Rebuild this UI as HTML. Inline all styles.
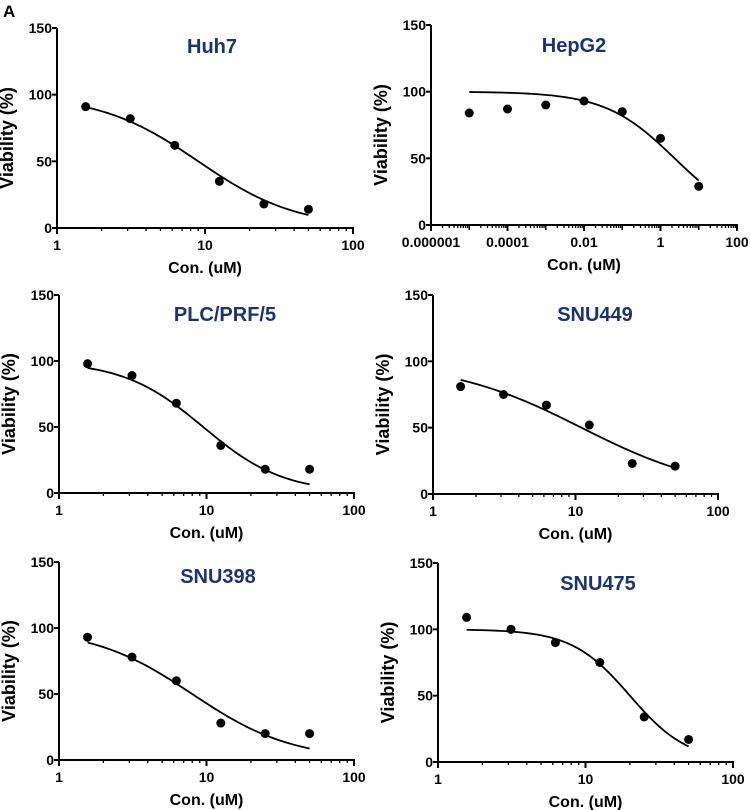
<!DOCTYPE html>
<html><head><meta charset="utf-8"><style>
body{margin:0;background:#fff}
svg{display:block}
text{font-family:"Liberation Sans",Arial,sans-serif;font-weight:bold}
</style></head><body>
<svg id="fig" width="750" height="810" viewBox="0 0 750 810">
<text x="3" y="17" font-size="17" fill="#000">A</text>
</svg>
<script>
const concentrations = [1.5625, 3.125, 6.25, 12.5, 25, 50];
const hepg2Concentrations = [1e-5, 1e-4, 1e-3, 1e-2, 1e-1, 1, 10];
const huh7Values = [91, 82, 62, 35, 18, 14];
const hepg2Values = [84, 87, 90, 93, 85, 65, 29];
const plcValues = [98, 89, 68, 36, 18, 18];
const snu449Values = [81, 75, 67, 52, 23, 21];
const snu398Values = [93, 78, 60, 28, 20, 20];
const snu475Values = [109, 100, 90, 75, 34, 17];
const yTicks = [0, 50, 100, 150];
const xTicksStd = [1, 10, 100];
const xTickLabelsStd = ["1", "10", "100"];
const xTicksHep = [1e-6, 1e-4, 1e-2, 1, 100];
const xTickLabelsHep = ["0.000001", "0.0001", "0.01", "1", "100"];
// fit params: [ic50, hill]
const huh7Fit = [9, 1.3];
const hepg2Fit = [2.34, 0.477];
const plcFit = [9.5, 1.6];
const snu449Fit = [11, 0.93];
const snu398Fit = [8, 1.28];
const snu475Fit = [20, 2.2];

const NS = "http://www.w3.org/2000/svg";
const svg = document.getElementById('fig');
function mk(tag, attrs, parent){const e=document.createElementNS(NS,tag);for(const k in attrs)e.setAttribute(k,attrs[k]);(parent||svg).appendChild(e);return e;}

const panels = [
 {id:'huh7', title:'Huh7', xs:concentrations, ys:huh7Values, fit:huh7Fit, ax:57, ax2:353, y150:28, y0:228, xmin:1, xmax:100, tx:212, ty:53, ticks:xTicksStd, labels:xTickLabelsStd},
 {id:'hepg2', title:'HepG2', xs:hepg2Concentrations, ys:hepg2Values, fit:hepg2Fit, ax:431, ax2:737, y150:25, y0:225, xmin:1e-6, xmax:100, tx:574, ty:52, ticks:xTicksHep, labels:xTickLabelsHep},
 {id:'plc-prf-5', title:'PLC/PRF/5', xs:concentrations, ys:plcValues, fit:plcFit, ax:59, ax2:354, y150:295, y0:493, xmin:1, xmax:100, tx:225, ty:321, ticks:xTicksStd, labels:xTickLabelsStd},
 {id:'snu449', title:'SNU449', xs:concentrations, ys:snu449Values, fit:snu449Fit, ax:433, ax2:718, y150:295, y0:494, xmin:1, xmax:100, tx:595, ty:321, ticks:xTicksStd, labels:xTickLabelsStd},
 {id:'snu398', title:'SNU398', xs:concentrations, ys:snu398Values, fit:snu398Fit, ax:59, ax2:354, y150:562, y0:760, xmin:1, xmax:100, tx:218, ty:583, ticks:xTicksStd, labels:xTickLabelsStd},
 {id:'snu475', title:'SNU475', xs:concentrations, ys:snu475Values, fit:snu475Fit, ax:438, ax2:733, y150:563, y0:762, xmin:1, xmax:100, tx:598, ty:590, ticks:xTicksStd, labels:xTickLabelsStd}
];

panels.forEach(p=>{
  const g = mk('g',{});
  
  
  const lmin=Math.log10(p.xmin), lmax=Math.log10(p.xmax);
  const X = v => p.ax + (Math.log10(v)-lmin)/(lmax-lmin)*(p.ax2-p.ax);
  const Y = v => p.y0 - v/150*(p.y0-p.y150);
  const ya = mk('line',{x1:p.ax,y1:p.y150,x2:p.ax,y2:p.y0,stroke:'#000','stroke-width':2},g);
  
  
  const xa = mk('line',{x1:p.ax-1,y1:p.y0,x2:p.ax2+1,y2:p.y0,stroke:'#000','stroke-width':2},g);
  
  
  yTicks.forEach(t=>{
    mk('line',{x1:p.ax-5,y1:Y(t),x2:p.ax,y2:Y(t),stroke:'#000','stroke-width':2},g);
    const tl = mk('text',{x:p.ax-5,y:Y(t)+5,'font-size':14,'text-anchor':'end'},g);
    tl.textContent=t;
    
    
  });
  for(let d=Math.round(lmin); d<Math.round(lmax); d++){
    for(let m=2;m<=9;m++){
      const xx=X(m*Math.pow(10,d));
      mk('line',{x1:xx,y1:p.y0,x2:xx,y2:p.y0+3,stroke:'#000','stroke-width':1.3},g);
    }
    if(d>Math.round(lmin)){const xx=X(Math.pow(10,d));mk('line',{x1:xx,y1:p.y0,x2:xx,y2:p.y0+5,stroke:'#000','stroke-width':1.5},g);}
  }
  p.ticks.forEach((t,i)=>{
    const xx=X(t);
    mk('line',{x1:xx,y1:p.y0,x2:xx,y2:p.y0+6,stroke:'#000','stroke-width':2},g);
    const tl=mk('text',{x:xx,y:p.y0+22,'font-size':14,'text-anchor':'middle'},g);
    tl.textContent=p.labels[i];
    
    
  });
  const xt=mk('text',{x:(p.ax+p.ax2)/2,y:p.y0+45,'font-size':16,'text-anchor':'middle'},g);
  xt.textContent='Con. (uM)';
  
  
  const yc=(p.y0+p.y150)/2+10, yx=p.ax-44;
  const yt=mk('text',{x:yx,y:yc,'font-size':18,'text-anchor':'middle',transform:`rotate(-90 ${yx} ${yc})`},g);
  yt.textContent='Viability (%)';
  
  
  const tt=mk('text',{x:p.tx,y:p.ty,'font-size':20,'text-anchor':'middle',fill:'#1b3372'},g);
  tt.textContent=p.title;
  
  
  const [ic,h]=p.fit;
  const a=Math.log10(p.xs[0]), b=Math.log10(p.xs[p.xs.length-1]);
  let d='';
  for(let i=0;i<=80;i++){
    const lx=a+(b-a)*i/80, v=Math.pow(10,lx);
    const y=100/(1+Math.pow(v/ic,h));
    d+=(i?'L':'M')+X(v).toFixed(2)+' '+Y(y).toFixed(2);
  }
  const c=mk('path',{d:d,fill:'none',stroke:'#000','stroke-width':1.8},g);
  
  
  p.xs.forEach((v,i)=>{
    const pt=mk('circle',{cx:X(v),cy:Y(p.ys[i]),r:4.5,fill:'#000'},g);
    
    
  });
});
</script>
</body></html>
